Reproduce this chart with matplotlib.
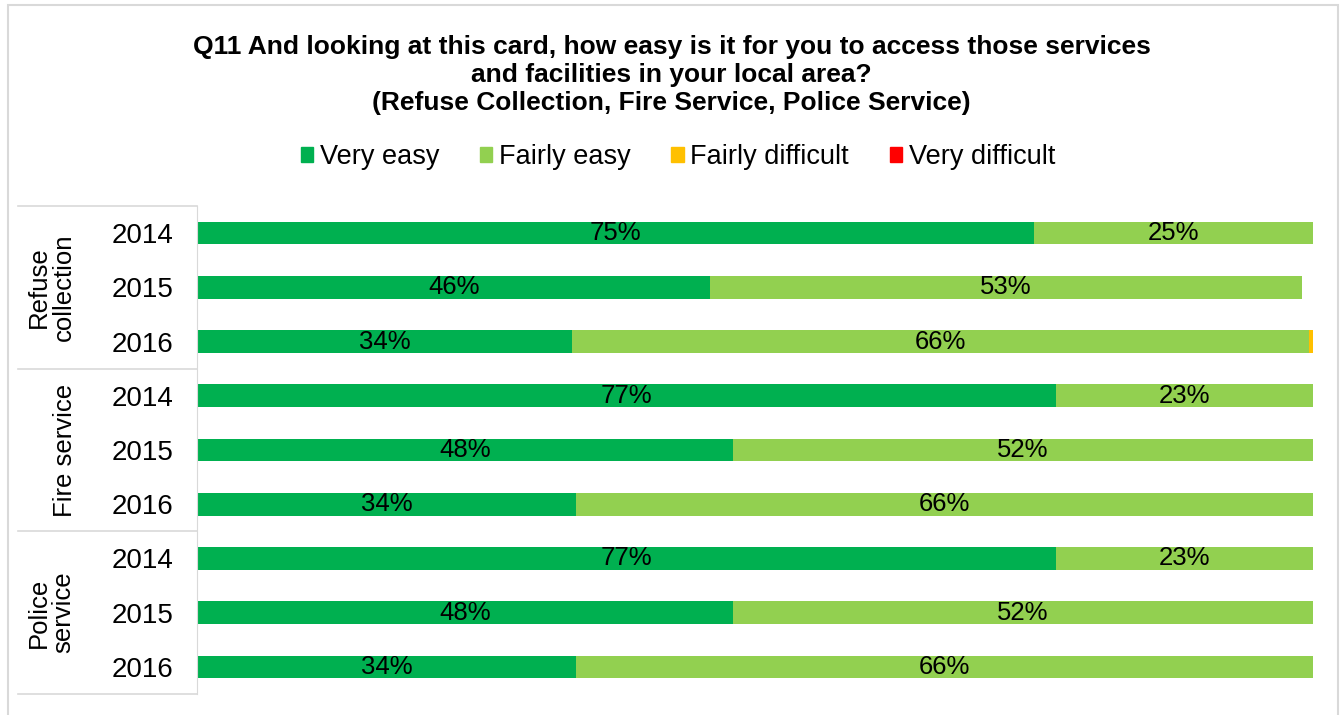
import matplotlib.pyplot as plt
from matplotlib.lines import Line2D
from matplotlib.patches import Rectangle
from matplotlib.transforms import blended_transform_factory

plt.rcParams['font.family'] = ['Liberation Sans', 'DejaVu Sans']

# data
groups = ['Refuse\ncollection', 'Fire service', 'Police\nservice']
years = ['2014', '2015', '2016']
categories = ['Very easy', 'Fairly easy', 'Fairly difficult', 'Very difficult']
colors = ['#00B050', '#92D050', '#FFC000', '#FF0000']

very_easy = [75, 46, 33.6, 77, 48, 34, 77, 48, 34]
fairly_easy = [25, 53, 66.0, 23, 52, 66, 23, 52, 66]
fairly_difficult = [0, 0, 0.4, 0, 0, 0, 0, 0, 0]
very_difficult = [0, 0, 0, 0, 0, 0, 0, 0, 0]
series = [very_easy, fairly_easy, fairly_difficult, very_difficult]

W, H = 1343, 715
fig = plt.figure(figsize=(W / 100, H / 100), dpi=100)

# chart border
fig.patches.append(Rectangle((8 / W, -0.01), 1330 / W, 1 - 5 / H + 0.01,
                             transform=fig.transFigure, fill=False,
                             edgecolor='#D9D9D9', linewidth=1.5))

ax = fig.add_axes([197 / W, 1 - 694 / H, 1116 / W, 488 / H])

n = len(very_easy)
rows = list(range(n))
left = [0] * n
for vals, col, name in zip(series, colors, categories):
    ax.barh(rows, vals, left=left, height=0.42, color=col, label=name)
    for r in rows:
        if vals[r] >= 5:
            ax.text(left[r] + vals[r] / 2, r, f'{vals[r]:.0f}%', ha='center',
                    va='center', fontsize=18.5, color='black')
    left = [l + v for l, v in zip(left, vals)]

ax.set_xlim(0, 100)
ax.set_ylim(n - 0.5, -0.5)
ax.set_xticks([])
ax.set_yticks(rows)
ax.set_yticklabels(years * 3, fontsize=20)
ax.tick_params(axis='y', length=0, pad=17)
for s in ['top', 'right', 'bottom']:
    ax.spines[s].set_visible(False)
ax.spines['left'].set_color('#D9D9D9')

# category table lines on the left
tr = blended_transform_factory(fig.transFigure, ax.transData)
for y in [-0.5, 2.5, 5.5, 8.5]:
    fig.lines.append(Line2D([18 / W, 197 / W], [y, y], transform=tr,
                            color='#D9D9D9', linewidth=1.2))

group_x = [51 / W, 65 / W, 51 / W]
for i, g in enumerate(groups):
    fig.text(group_x[i], 3 * i + 1, g, transform=tr, rotation=90,
             ha='center', va='center', fontsize=18.5, linespacing=1.05)

fig.text(0.5, 1 - 75 / H, 'Q11 And looking at this card, how easy is it for you to access those services\n'
         'and facilities in your local area?\n'
         '(Refuse Collection, Fire Service, Police Service)',
         ha='center', va='center', fontsize=19, fontweight='bold', linespacing=1.22)

handles = [Rectangle((0, 0), 1, 1, color=c) for c in colors]
fig.legend(handles, categories, loc='center', bbox_to_anchor=(678 / W, 1 - 157 / H),
           ncol=4, frameon=False, fontsize=19.5, handlelength=0.45, handleheight=0.45,
           handletextpad=0.25, columnspacing=1.5)

fig.savefig('out.png', dpi=100)
